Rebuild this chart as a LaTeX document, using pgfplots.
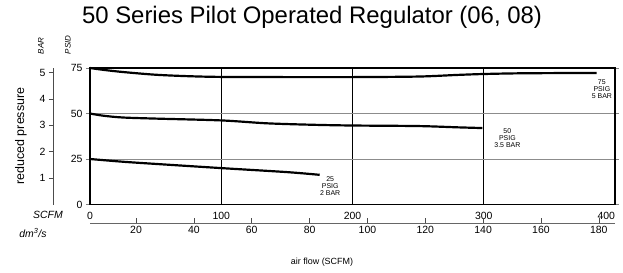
\documentclass[border=0pt]{standalone}
\usepackage{pgfplots}
\pgfplotsset{compat=1.18}
\usepackage{fontspec}
\setmainfont{Liberation Sans}
\begin{document}
\begin{tikzpicture}
\path[use as bounding box] (-90bp,-68.5bp) rectangle (533bp,204.5bp);
% main axis
\begin{axis}[
  at={(0,0)}, anchor=south west, scale only axis,
  width=525bp, height=136.5bp,
  xmin=0, xmax=400, ymin=0, ymax=75,
  xtick={0,100,200,300,400}, xticklabels={0,100,200,300,\llap{400}},
  ytick={0,25,50,75},
  tick align=outside, major tick length=4bp,
  xtick style={draw=none},
  ytick style={line width=0.6pt},
  /pgf/number format/assume math mode=true,
  tick label style={font=\fontsize{10.5}{12}\selectfont},
  grid=major,
  x grid style={black, line width=0.9pt},
  y grid style={black!45, line width=0.5pt},
  axis line style={line width=1.2pt},
  clip=false,
]
\addplot[black, line width=2.2pt, smooth] coordinates {
 (0,75) (10,74) (25,72.8) (50,71.3) (75,70.5) (100,70.1) (150,70) (200,70) (250,70.3) (280,71.2) (300,71.7) (330,72.1) (386,72.3)};
\addplot[black, line width=2.2pt, smooth] coordinates {
 (0,50) (10,48.8) (25,47.8) (50,47.2) (100,46.2) (135,44.6) (170,43.8) (200,43.4) (250,43.1) (280,42.4) (299,42)};
\addplot[black, line width=2.2pt, smooth] coordinates {
 (0,25) (25,23.5) (50,22.3) (100,20) (150,17.8) (175,16.3)};
\node[align=center, font=\fontsize{7}{7}\selectfont] at (axis cs:390,63.5) {75\\PSIG\\5 BAR};
\node[align=center, font=\fontsize{7}{7}\selectfont] at (axis cs:318,36.5) {50\\PSIG\\3.5 BAR};
\node[align=center, font=\fontsize{7}{7}\selectfont] at (axis cs:183,10.2) {25\\PSIG\\2 BAR};
\end{axis}
% BAR axis
\begin{axis}[
  at={(-37bp,0)}, anchor=south west, scale only axis,
  width=1bp, height=136.5bp,
  xmin=0, xmax=1, ymin=0, ymax=5.1724,
  axis y line*=left, hide x axis,
  ytick={1,2,3,4,5},
  tick align=outside, major tick length=4bp,
  axis line style={black!70, line width=0.6pt, -},
  ytick style={black!70, line width=0.6pt},
  /pgf/number format/assume math mode=true,
  tick label style={font=\fontsize{10.5}{12}\selectfont},
]
\end{axis}
% dm3/s axis
\begin{axis}[
  at={(0,-18.5bp)}, anchor=south west, scale only axis,
  width=525bp, height=10bp,
  xmin=4.08, xmax=185.6, ymin=0, ymax=1,
  axis x line*=bottom, hide y axis,
  xtick={20,40,...,180},
  tick align=inside, major tick length=5bp,
  axis line style={black!60, line width=0.6pt, -},
  xtick style={black!70, line width=0.6pt},
  /pgf/number format/assume math mode=true,
  tick label style={font=\fontsize{10.5}{12}\selectfont},
]
\end{axis}
\node[font=\fontsize{24}{28}\selectfont] at (222bp,187bp) {50 Series Pilot Operated Regulator (06, 08)};
\node[rotate=90, font=\fontsize{12.5}{14}\selectfont] at (-69bp,68.5bp) {reduced pressure};
\node[font=\fontsize{9}{11}\selectfont] at (232bp,-57.5bp) {air flow (SCFM)};
\node[font=\fontsize{10.5}{12}\selectfont\itshape] at (-42bp,-10.5bp) {SCFM};
\node[font=\fontsize{10.5}{12}\selectfont\itshape] at (-57bp,-28.5bp) {dm\textsuperscript{3}/s};
\node[rotate=90, font=\fontsize{8}{9}\selectfont\itshape] at (-49bp,158.5bp) {BAR};
\node[rotate=90, font=\fontsize{8}{9}\selectfont\itshape] at (-22bp,159.5bp) {PSID};
\end{tikzpicture}
\end{document}
